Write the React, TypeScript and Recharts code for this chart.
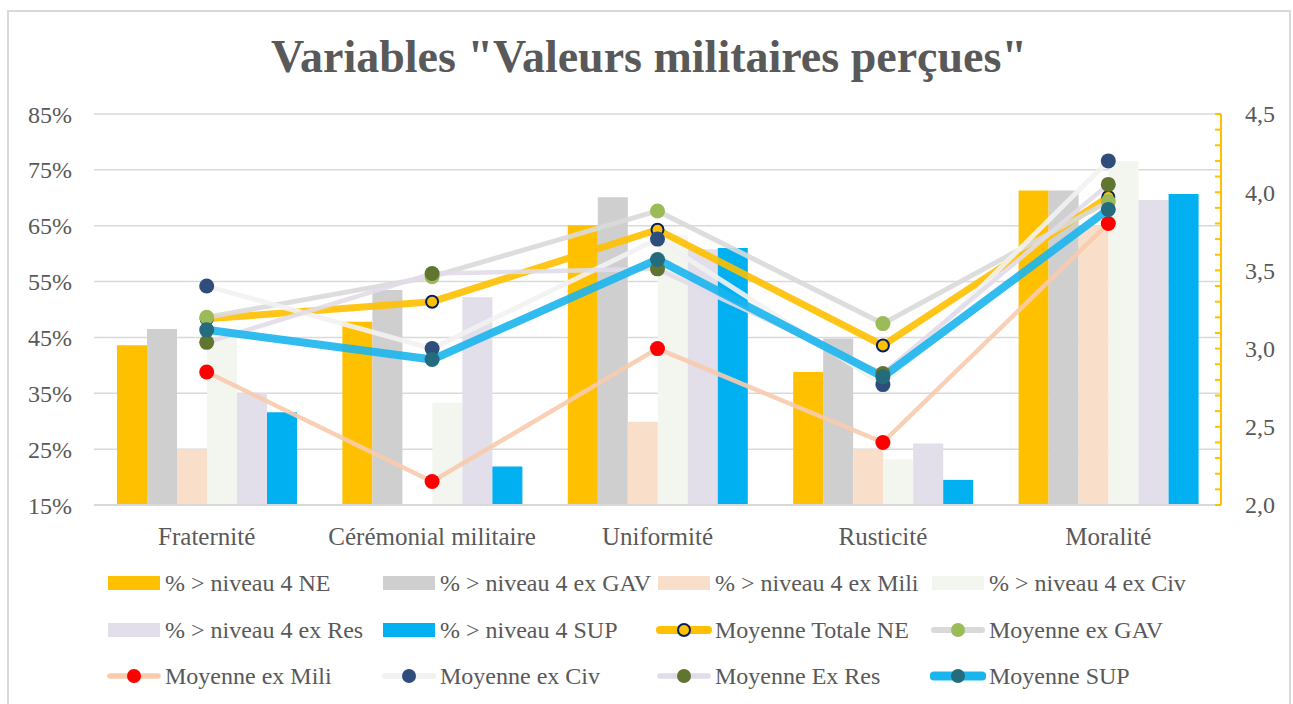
import React from "react";
import {
  Bar,
  CartesianGrid,
  ComposedChart,
  Line,
  XAxis,
  YAxis,
} from "recharts";

const categories = ["Fraternité", "Cérémonial militaire", "Uniformité", "Rusticité", "Moralité"];

// % > niveau 4 (left axis, in %)
const pctNE = [43.6, 47.8, 65.1, 38.8, 71.3];
const pctGAV = [46.5, 53.5, 70.1, 44.8, 71.3];
const pctMili = [25.0, 15.0, 29.9, 25.0, 65.0];
const pctCiv = [45.0, 33.3, 63.3, 23.2, 76.6];
const pctRes = [35.0, 52.2, 60.8, 26.0, 69.6];
const pctSUP = [31.6, 21.9, 61.0, 19.5, 70.7];

// moyennes (right axis)
const meanNE = [3.19, 3.3, 3.76, 3.02, 3.97];
const meanGAV = [3.2, 3.46, 3.88, 3.16, 3.94];
const meanMili = [2.85, 2.15, 3.0, 2.4, 3.8];
const meanCiv = [3.4, 3.0, 3.7, 2.77, 4.2];
const meanRes = [3.04, 3.48, 3.51, 2.84, 4.05];
const meanSUP = [3.12, 2.93, 3.57, 2.82, 3.89];

const leftTicks = [15, 25, 35, 45, 55, 65, 75, 85];
const rightTicks = [
  2.0, 2.1, 2.2, 2.3, 2.4, 2.5, 2.6, 2.7, 2.8, 2.9, 3.0, 3.1, 3.2,
  3.3, 3.4, 3.5, 3.6, 3.7, 3.8, 3.9, 4.0, 4.1, 4.2, 4.3, 4.4, 4.5,
];

const data = categories.map((name, i) => ({
  name,
  pNE: pctNE[i],
  pGAV: pctGAV[i],
  pMili: pctMili[i],
  pCiv: pctCiv[i],
  pRes: pctRes[i],
  pSUP: pctSUP[i],
  mNE: meanNE[i],
  mGAV: meanGAV[i],
  mMili: meanMili[i],
  mCiv: meanCiv[i],
  mRes: meanRes[i],
  mSUP: meanSUP[i],
}));

const FONT = "'Liberation Serif', 'DejaVu Serif', serif";
const TXT = "#595959";

const bars = [
  { key: "pNE", name: "% > niveau 4 NE", color: "#FFC000" },
  { key: "pGAV", name: "% > niveau 4 ex GAV", color: "#CFCFCF" },
  { key: "pMili", name: "% > niveau 4 ex Mili", color: "#F9DFC9" },
  { key: "pCiv", name: "% > niveau 4 ex Civ", color: "#F3F6EE" },
  { key: "pRes", name: "% > niveau 4 ex Res", color: "#E2DEEA" },
  { key: "pSUP", name: "% > niveau 4 SUP", color: "#00B0F0" },
];

const lines = [
  { key: "mNE", name: "Moyenne Totale NE", color: "#FFC000", width: 7, dot: "#FFC000", dotStroke: "#002060", open: true },
  { key: "mGAV", name: "Moyenne ex GAV", color: "#D9D9D9", width: 5, dot: "#9BBB59" },
  { key: "mMili", name: "Moyenne ex Mili", color: "#F8CBAD", width: 4.5, dot: "#FF0000" },
  { key: "mCiv", name: "Moyenne ex Civ", color: "#F2F2F2", width: 5, dot: "#2E4D7B" },
  { key: "mRes", name: "Moyenne Ex Res", color: "#E1DCE9", width: 4.5, dot: "#5F7530" },
  { key: "mSUP", name: "Moyenne SUP", color: "#1BB5EE", width: 8, dot: "#246B7D" },
];

const RightTick = (props: any) => {
  const { x, y, payload } = props;
  const v = payload.value as number;
  const major = Math.abs(v * 2 - Math.round(v * 2)) < 1e-6;
  return (
    <g>
      <line x1={x - 6} x2={x} y1={y} y2={y} stroke="#FFC000" strokeWidth={2} />
      {major && (
        <text x={x + 24} y={y} dy="0.35em" fontFamily={FONT} fontSize={24} fill={TXT}>
          {v.toFixed(1).replace(".", ",")}
        </text>
      )}
    </g>
  );
};

const legendItems = [
  ...bars.map((b) => ({ type: "bar", ...b })),
  ...lines.map((l) => ({ type: "line", ...l })),
] as any[];

const colX = [108, 383, 658, 932];
const rowY = [583, 630, 676];

function LegendIcon({ item }: { item: any }) {
  if (item.type === "bar") {
    return (
      <svg width={52} height={16}>
        <rect x={0} y={1} width={52} height={14} fill={item.color} />
      </svg>
    );
  }
  return (
    <svg width={56} height={18}>
      <line x1={4} x2={52} y1={9} y2={9} stroke={item.color} strokeWidth={item.width + 1} strokeLinecap="round" />
      <circle
        cx={28}
        cy={9}
        r={item.open ? 6 : 7}
        fill={item.dot}
        stroke={item.open ? item.dotStroke : "none"}
        strokeWidth={item.open ? 2 : 0}
      />
    </svg>
  );
}

export default function App() {
  return (
    <div style={{ position: "absolute", left: 0, top: 0, width: 1293, height: 704, background: "#fff", overflow: "hidden" }}>
      <div
        style={{
          position: "absolute",
          left: 7,
          top: 10,
          width: 1284,
          height: 710,
          border: "2px solid #D9D9D9",
          boxSizing: "border-box",
        }}
      />
      <div
        style={{
          position: "absolute",
          left: 0,
          top: 34,
          width: 1298,
          textAlign: "center",
          fontFamily: FONT,
          fontWeight: "bold",
          fontSize: 46,
          lineHeight: "46px",
          color: TXT,
          whiteSpace: "nowrap",
        }}
      >
        Variables "Valeurs militaires perçues"
      </div>
      <div style={{ position: "absolute", left: 0, top: 0 }}>
        <ComposedChart
          width={1293}
          height={704}
          data={data}
          margin={{ top: 114, left: 14, right: 12, bottom: 159 }}
          barCategoryGap="20%"
          barGap={0}
          barSize={30}
        >
          <CartesianGrid yAxisId="left" vertical={false} stroke="#D9D9D9" strokeWidth={1.5} />
          <XAxis
            dataKey="name"
            height={40}
            tickLine={false}
            tickSize={0}
            tickMargin={22}
            axisLine={{ stroke: "#D9D9D9", strokeWidth: 2 }}
            tick={{ fontFamily: FONT, fontSize: 25, fill: TXT }}
            interval={0}
          />
          <YAxis
            yAxisId="left"
            orientation="left"
            width={80}
            domain={[15, 85]}
            ticks={leftTicks}
            interval={0}
            tickFormatter={(v) => `${v}%`}
            axisLine={false}
            tickLine={false}
            tickSize={0}
            tickMargin={22}
            tick={{ fontFamily: FONT, fontSize: 24, fill: TXT }}
          />
          <YAxis
            yAxisId="right"
            orientation="right"
            width={60}
            domain={[2, 4.5]}
            ticks={rightTicks}
            interval={0}
            axisLine={{ stroke: "#FFC000", strokeWidth: 2 }}
            tickLine={false}
            tickSize={0}
            tickMargin={0}
            tick={<RightTick />}
          />
          {bars.map((b) => (
            <Bar
              key={b.key}
              yAxisId="left"
              dataKey={b.key}
              name={b.name}
              fill={b.color}
              barSize={30}
              isAnimationActive={false}
            />
          ))}
          {lines.map((l) => (
            <Line
              key={l.key}
              yAxisId="right"
              type="linear"
              dataKey={l.key}
              name={l.name}
              stroke={l.color}
              strokeWidth={l.width}
              strokeOpacity={0.9}
              dot={{
                r: l.open ? 6 : 7.5,
                fill: l.dot,
                stroke: l.open ? l.dotStroke : l.dot,
                strokeWidth: l.open ? 2 : 0,
                fillOpacity: 1,
                strokeOpacity: 1,
              }}
              activeDot={false}
              isAnimationActive={false}
            />
          ))}
        </ComposedChart>
      </div>
      {legendItems.map((item, i) => {
        const row = Math.floor(i / 4);
        const col = i % 4;
        return (
          <div
            key={item.key}
            style={{
              position: "absolute",
              left: colX[col] - (item.type === "line" ? 2 : 0),
              top: rowY[row] - 14,
              height: 28,
              display: "flex",
              alignItems: "center",
              fontFamily: FONT,
              fontSize: 24,
              color: TXT,
              whiteSpace: "nowrap",
            }}
          >
            <LegendIcon item={item} />
            <span style={{ marginLeft: item.type === "line" ? 3 : 5 }}>{item.name}</span>
          </div>
        );
      })}
    </div>
  );
}
